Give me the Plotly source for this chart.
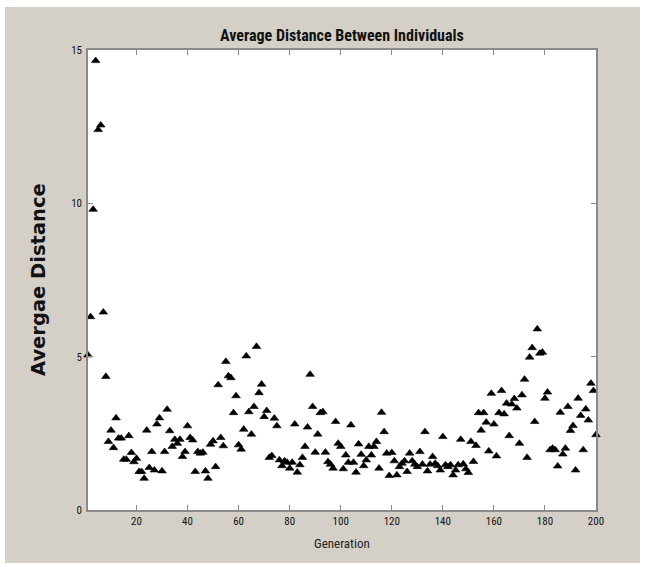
import plotly.graph_objects as go

generations = list(range(1, 201))
avg_distance = [
    5.05, 6.30, 9.80, 14.65, 12.40, 12.55, 6.45, 4.35, 2.23, 2.60,
    2.03, 3.00, 2.34, 2.34, 1.65, 1.65, 2.42, 1.87, 1.57, 1.68,
    1.25, 1.25, 1.03, 2.60, 1.38, 1.90, 1.30, 2.80, 3.00, 1.27,
    1.90, 3.28, 2.58, 2.07, 2.30, 2.17, 2.30, 1.74, 1.90, 2.74,
    2.36, 2.28, 1.25, 1.90, 1.85, 1.88, 1.27, 1.03, 2.14, 2.25,
    1.41, 4.08, 2.36, 2.09, 4.84, 4.37, 4.31, 3.17, 3.72, 2.12,
    1.98, 2.63, 5.02, 3.20, 2.47, 3.37, 5.33, 3.82, 4.10, 3.04,
    3.24, 1.71, 1.77, 2.99, 2.74, 1.63, 1.44, 1.60, 1.55, 1.36,
    1.55, 2.80, 1.23, 1.47, 1.71, 2.07, 2.70, 4.42, 3.37, 1.88,
    2.47, 3.17, 3.20, 1.88, 1.57, 1.49, 1.36, 2.88, 2.17, 2.07,
    1.34, 1.79, 1.55, 2.77, 1.55, 1.23, 2.15, 1.81, 1.44, 1.63,
    2.07, 1.79, 2.07, 2.23, 1.36, 3.18, 2.55, 1.85, 1.12, 1.87,
    1.60, 1.14, 1.41, 1.52, 1.60, 1.25, 1.85, 1.60, 1.49, 1.41,
    1.90, 1.49, 2.55, 1.27, 1.49, 1.74, 1.52, 1.44, 1.30, 2.39,
    1.47, 1.41, 1.47, 1.14, 1.30, 1.47, 2.30, 1.50, 1.34, 1.22,
    2.23, 1.58, 2.10, 3.17, 2.60, 3.17, 2.86, 1.92, 3.80, 2.80,
    1.76, 3.17, 3.89, 3.13, 3.48, 2.42, 3.45, 3.63, 3.32, 2.17,
    3.75, 4.26, 1.71, 4.98, 5.29, 2.88, 5.90, 5.11, 5.14, 3.64,
    3.84, 1.96, 2.01, 1.96, 1.43, 3.18, 1.82, 2.01, 3.37, 2.59,
    2.75, 1.30, 3.64, 3.08, 1.96, 3.29, 2.93, 4.13, 3.89, 2.45,
]
x_ticks = [20, 40, 60, 80, 100, 120, 140, 160, 180, 200]
y_ticks = [0, 5, 10, 15]

W, H = 646, 567
L, R, T, B = 88, 596, 50, 510
PW, PH = R - L, B - T

def px(x):
    return (x - L) / PW

def py(y):
    return (B - y) / PH

narrow = "Liberation Sans Narrow, Arial Narrow, Roboto Condensed, Liberation Sans, sans-serif"
wide = "DejaVu Sans, Verdana, Liberation Sans, sans-serif"

fig = go.Figure(
    go.Scatter(
        x=generations,
        y=avg_distance,
        mode="markers",
        marker=dict(symbol="triangle-up", size=7.5, color="black",
                    line=dict(color="black", width=0.6)),
        cliponaxis=False,
        showlegend=False,
        hoverinfo="x+y",
    )
)

axis_common = dict(
    showline=True, linecolor="#8a8a8a", linewidth=1.5, mirror="ticks",
    ticks="inside", ticklen=5, tickwidth=1, tickcolor="#8a8a8a",
    showgrid=False, zeroline=False,
    tickfont=dict(family=narrow, size=11, color="#111111"),
)

fig.update_xaxes(range=[1, 200], tickvals=x_ticks, **axis_common)
fig.update_yaxes(range=[0, 15], tickvals=y_ticks, ticklabelstandoff=2, **axis_common)

fig.update_layout(
    width=W, height=H,
    margin=dict(l=L, r=W - R, t=T, b=H - B),
    paper_bgcolor="white",
    plot_bgcolor="white",
    shapes=[
        dict(type="rect", xref="paper", yref="paper", layer="below",
             x0=px(5), x1=px(640), y0=py(563), y1=py(7),
             fillcolor="#d4d0c8", line=dict(width=0)),
        dict(type="rect", xref="paper", yref="paper", layer="below",
             x0=0, x1=1, y0=0, y1=1,
             fillcolor="white", line=dict(width=0)),
    ],
    annotations=[
        dict(text="Average Distance Between Individuals", xref="paper", yref="paper",
             x=0.5, y=py(35), xanchor="center", yanchor="middle", showarrow=False,
             font=dict(family=narrow, size=16, color="#111111", weight="bold")),
        dict(text="Generation", xref="paper", yref="paper",
             x=0.5, y=py(543), xanchor="center", yanchor="middle", showarrow=False,
             font=dict(family=narrow, size=13, color="#222222")),
        dict(text="Avergae Distance", xref="paper", yref="paper",
             x=px(38), y=0.5, xanchor="center", yanchor="middle", showarrow=False,
             textangle=-90,
             font=dict(family=wide, size=19.5, color="#111111", weight="bold")),
    ],
)

fig.write_html("out.html")
